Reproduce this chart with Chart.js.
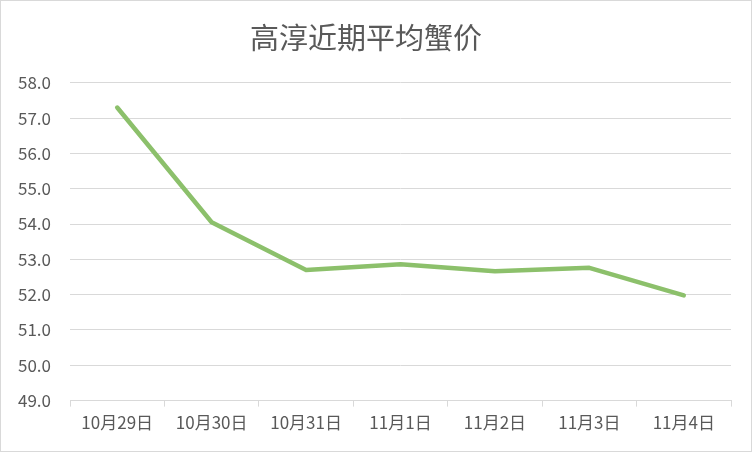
<!DOCTYPE html>
<html>
<head>
<meta charset="utf-8">
<script src="https://cdn.jsdelivr.net/npm/chart.js@4/dist/chart.umd.min.js"></script>
<style>
  html,body{margin:0;padding:0;background:#fff;}
  #wrap{position:absolute;left:0;top:0;width:750px;height:450px;border:1px solid #d9d9d9;}
  canvas{display:block;}
</style>
</head>
<body>
<div id="wrap"><canvas id="c" width="750" height="450"></canvas></div>
<script>
const titleText = "高淳近期平均蟹价";
const categories = ["10月29日","10月30日","10月31日","11月1日","11月2日","11月3日","11月4日"];
const prices = [57.3, 54.05, 52.7, 52.86, 52.66, 52.76, 51.98];
const yMin = 49, yMax = 58, yStep = 1;

const FONT = "'Noto Sans CJK SC', 'Microsoft YaHei', sans-serif";
const TEXT = "#595959";
const GRID = "#d9d9d9";

new Chart(document.getElementById('c'), {
  type: 'line',
  data: {
    labels: categories,
    datasets: [{
      data: prices,
      borderColor: '#8cc06b',
      borderWidth: 4.5,
      pointRadius: 0,
      tension: 0,
      fill: false,
      borderCapStyle: 'round',
      borderJoinStyle: 'round'
    }]
  },
  options: {
    responsive: false,
    animation: false,
    devicePixelRatio: 1,
    layout: { padding: { left: 0, right: 20, top: 0, bottom: 12 } },
    plugins: {
      legend: { display: false },
      tooltip: { enabled: false },
      title: {
        display: true,
        text: titleText,
        color: TEXT,
        font: { family: FONT, size: 29, weight: 'normal', lineHeight: 1.2 },
        padding: { top: 20, bottom: 27 }
      }
    },
    scales: {
      x: {
        offset: true,
        grid: {
          offset: true,
          drawOnChartArea: false,
          drawTicks: true,
          tickLength: 6,
          color: GRID
        },
        border: { display: true, color: GRID, width: 1 },
        ticks: {
          color: TEXT,
          font: { family: FONT, size: 17 },
          padding: 6,
          maxRotation: 0,
          autoSkip: false
        }
      },
      y: {
        min: yMin,
        max: yMax,
        afterFit: (s) => { s.width = 69; },
        grid: { color: GRID, drawTicks: false, lineWidth: 1 },
        border: { display: false },
        ticks: {
          stepSize: yStep,
          color: TEXT,
          font: { family: FONT, size: 17 },
          padding: 19,
          callback: (v) => Number(v).toFixed(1)
        }
      }
    }
  }
});
</script>
</body>
</html>
